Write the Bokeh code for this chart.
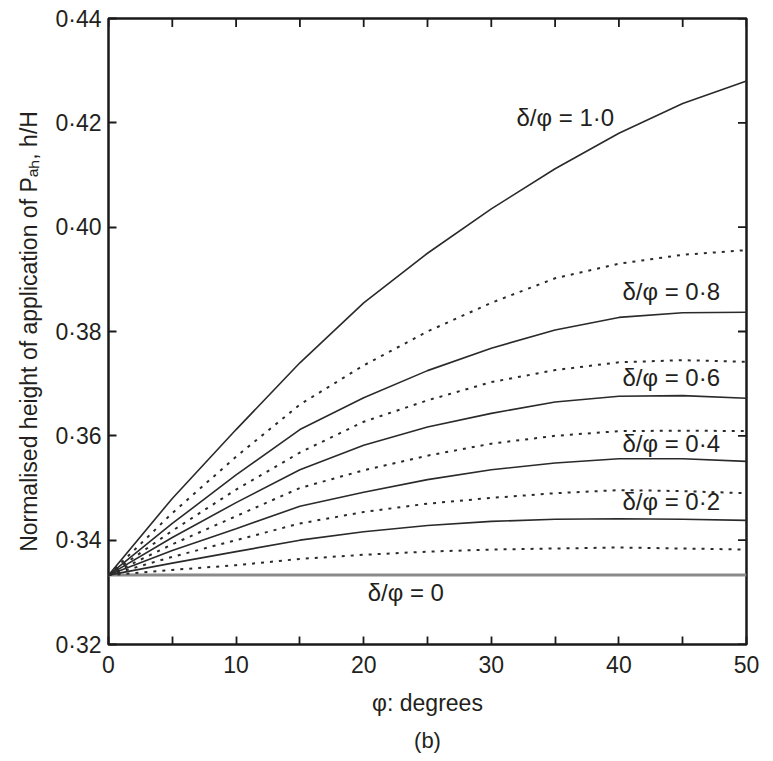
import math
from bokeh.plotting import figure
from bokeh.models import Range1d, FixedTicker, Title, Label
from bokeh.embed import file_html
from bokeh.resources import INLINE

# ---- data ----
phi = [0, 5, 10, 15, 20, 25, 30, 35, 40, 45, 50]
ratio_0_0 = [0.3333] * 11
ratio_0_1 = [0.3333, 0.3343, 0.3352, 0.3364, 0.3372, 0.3378, 0.3382, 0.3384, 0.3386, 0.3384, 0.3382]
ratio_0_2 = [0.3333, 0.3356, 0.3378, 0.3400, 0.3416, 0.3428, 0.3436, 0.3440, 0.3441, 0.3440, 0.3438]
ratio_0_3 = [0.3333, 0.3368, 0.3400, 0.3432, 0.3454, 0.3470, 0.3481, 0.3490, 0.3496, 0.3494, 0.3490]
ratio_0_4 = [0.3333, 0.3380, 0.3422, 0.3465, 0.3492, 0.3516, 0.3535, 0.3548, 0.3556, 0.3556, 0.3551]
ratio_0_5 = [0.3333, 0.3392, 0.3446, 0.3500, 0.3534, 0.3562, 0.3585, 0.3600, 0.3609, 0.3610, 0.3609]
ratio_0_6 = [0.3333, 0.3405, 0.3472, 0.3535, 0.3582, 0.3617, 0.3643, 0.3665, 0.3676, 0.3677, 0.3672]
ratio_0_7 = [0.3333, 0.3418, 0.3497, 0.3568, 0.3627, 0.3668, 0.3703, 0.3726, 0.3741, 0.3745, 0.3742]
ratio_0_8 = [0.3333, 0.3432, 0.3525, 0.3612, 0.3673, 0.3725, 0.3768, 0.3803, 0.3827, 0.3836, 0.3837]
ratio_0_9 = [0.3333, 0.3452, 0.3560, 0.3660, 0.3735, 0.3800, 0.3855, 0.3902, 0.3930, 0.3947, 0.3956]
ratio_1_0 = [0.3333, 0.3480, 0.3612, 0.3740, 0.3855, 0.3950, 0.4035, 0.4112, 0.4180, 0.4237, 0.4280]

y_ticks = [0.32, 0.34, 0.36, 0.38, 0.40, 0.42, 0.44]
y_tick_labels = ["0·32", "0·34", "0·36", "0·38", "0·40", "0·42", "0·44"]
x_ticks = [0, 10, 20, 30, 40, 50]
x_minor = [5, 15, 25, 35, 45]

curve_labels = ["δ/φ = 1·0", "δ/φ = 0·8", "δ/φ = 0·6", "δ/φ = 0·4", "δ/φ = 0·2", "δ/φ = 0"]
label_x = [35.8, 44.1, 44.1, 44.1, 44.1, 23.3]
label_y = [0.4210, 0.3876, 0.3711, 0.3586, 0.3474, 0.3300]

X_MIN, X_MAX = 0, 50
Y_MIN, Y_MAX = 0.32, 0.44

FONT = "Liberation Sans"
TXT = "#231f20"
INK = "#1a1a1a"

p = figure(width=765, height=761, x_range=Range1d(X_MIN, X_MAX), y_range=Range1d(Y_MIN, Y_MAX),
           output_backend="svg", toolbar_location=None,
           min_border_left=108, min_border_right=19, min_border_top=18, min_border_bottom=117)
p.grid.visible = False
p.outline_line_color = INK
p.outline_line_width = 2.5

# curves
p.line(phi, ratio_0_0, line_color="#8a8a8a", line_width=3)
solid = [ratio_0_2, ratio_0_4, ratio_0_6, ratio_0_8, ratio_1_0]
dotted = [ratio_0_1, ratio_0_3, ratio_0_5, ratio_0_7, ratio_0_9]
for s in dotted:
    p.line(phi, s, line_color="#2a2a2a", line_width=2.0, line_dash="3 6")
for s in solid:
    p.line(phi, s, line_color="#2a2a2a", line_width=1.6)

for t, lx, ly in zip(curve_labels, label_x, label_y):
    p.add_layout(Label(x=lx, y=ly, text=t, text_align="center", text_baseline="middle",
                       text_font=FONT, text_font_size="24px", text_color=TXT))

# mirrored inward ticks on the top and right edges (half of each dash is clipped by the frame)
top_ticks = x_ticks + x_minor
p.scatter(top_ticks, [Y_MAX] * len(top_ticks), marker="dash", angle=math.pi / 2, size=17,
          line_color=INK, line_width=1.8)
p.scatter([X_MAX] * len(y_ticks), y_ticks, marker="dash", size=17,
          line_color=INK, line_width=1.8)

def style_axis(ax):
    ax.axis_line_color = None
    ax.major_tick_in = 8
    ax.major_tick_out = 0
    ax.minor_tick_in = 8
    ax.minor_tick_out = 0
    ax.major_tick_line_color = INK
    ax.minor_tick_line_color = INK
    ax.major_tick_line_width = 1.8
    ax.minor_tick_line_width = 1.8
    ax.major_label_text_font = FONT
    ax.major_label_text_font_size = "23px"
    ax.major_label_text_color = TXT
    ax.axis_label_text_font = FONT
    ax.axis_label_text_font_style = "normal"
    ax.axis_label_text_color = TXT

xa = p.xaxis[0]
xa.ticker = FixedTicker(ticks=x_ticks, minor_ticks=x_minor)
style_axis(xa)
xa.axis_label = "φ: degrees"
xa.axis_label_text_font_size = "23px"
xa.major_label_standoff = 11
xa.axis_label_standoff = 14

ya = p.yaxis[0]
ya.ticker = FixedTicker(ticks=y_ticks)
ya.major_label_overrides = {v: s for v, s in zip(y_ticks, y_tick_labels)}
style_axis(ya)
ya.axis_label = "Normalised height of application of Pₐₕ, h/H"
ya.axis_label_text_font_size = "23px"
ya.major_label_standoff = 7
ya.axis_label_standoff = 10

p.add_layout(Title(text="(b)", align="center", text_font=FONT, text_font_size="22px",
                   text_font_style="normal", text_color=TXT, standoff=15), "below")

open("out.html", "w").write(file_html(p, INLINE))
